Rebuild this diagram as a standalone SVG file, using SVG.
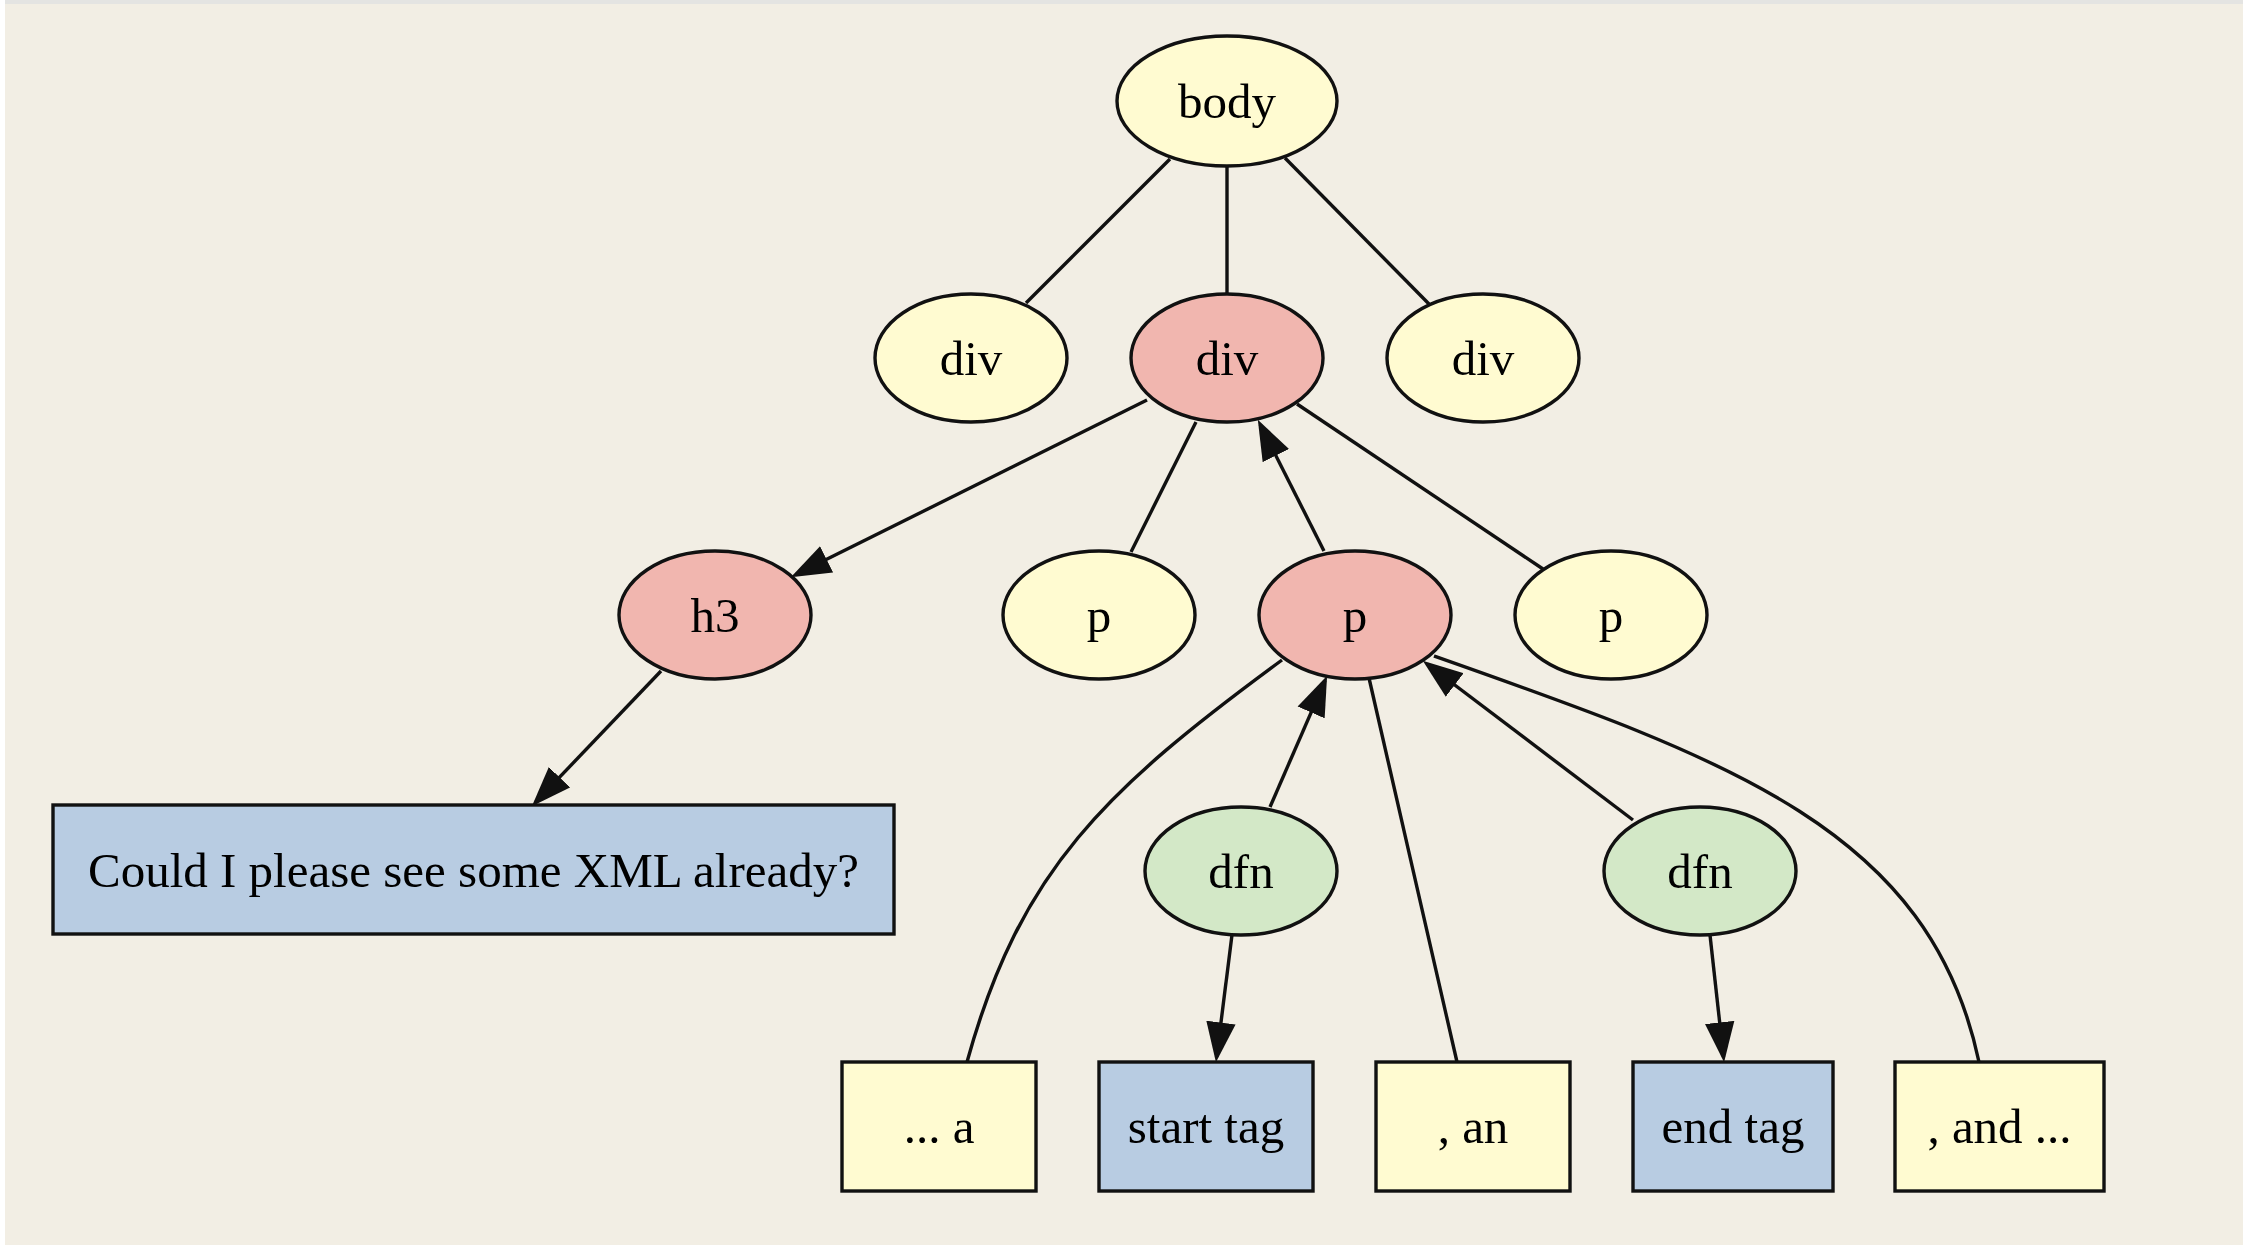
<svg xmlns="http://www.w3.org/2000/svg" width="2243" height="1245" viewBox="0 0 2243 1245">
<style>
.bg{fill:#F2EEE4}
.n{stroke:#111;stroke-width:3.4}
.y{fill:#FFFBD1}
.r{fill:#F1B6AF}
.g{fill:#D3E8C7}
.b{fill:#B8CCE2}
text{font-family:"Liberation Serif","Times New Roman",serif;font-size:49px;fill:#000;text-anchor:middle}
.e{stroke:#111;stroke-width:3.4;fill:none}
.a{marker-end:url(#arr)}
</style>
<defs>
<marker id="arr" markerUnits="userSpaceOnUse" markerWidth="40" markerHeight="30" viewBox="0 0 38 28" refX="33" refY="14" orient="auto">
<path d="M0,0 L38,14 L0,28 Z" fill="#111"/>
</marker>
</defs>
<rect class="bg" x="0" y="0" width="2243" height="1245"/>
<rect x="0" y="0" width="5" height="1245" fill="#FFFFFF"/>
<rect x="5" y="0" width="2238" height="4" fill="#E4E4E2"/>
<g id="connectors">
<line class="e" x1="1170" y1="159" x2="1026" y2="303"/>
<line class="e" x1="1227" y1="166" x2="1227" y2="294"/>
<line class="e" x1="1285" y1="158" x2="1429" y2="304"/>
<line class="e a" x1="1147" y1="400" x2="795.5" y2="574.8"/>
<line class="e" x1="1196" y1="422" x2="1131" y2="552"/>
<line class="e a" x1="1324" y1="551" x2="1260.2" y2="424.5"/>
<line class="e" x1="1297" y1="404" x2="1543" y2="569"/>
<line class="e a" x1="661" y1="671" x2="535.5" y2="802.4"/>
<path class="e" d="M1282,660 C1105,790 1020,870 967,1062"/>
<line class="e a" x1="1270" y1="807" x2="1325" y2="680.6"/>
<line class="e" x1="1369" y1="678" x2="1457" y2="1062"/>
<line class="e a" x1="1633" y1="820" x2="1427" y2="664"/>
<path class="e" d="M1434,656 C1730,760 1930,830 1979,1062"/>
<line class="e a" x1="1232" y1="935" x2="1216.6" y2="1057"/>
<line class="e a" x1="1710" y1="935" x2="1723.5" y2="1057"/>
</g>
<g id="body"><ellipse class="n y" cx="1227" cy="101" rx="110" ry="65"/><text x="1227" y="118">body</text></g>
<g id="div1"><ellipse class="n y" cx="971" cy="358" rx="96" ry="64"/><text x="971" y="375">div</text></g>
<g id="div2"><ellipse class="n r" cx="1227" cy="358" rx="96" ry="64"/><text x="1227" y="375">div</text></g>
<g id="div3"><ellipse class="n y" cx="1483" cy="358" rx="96" ry="64"/><text x="1483" y="375">div</text></g>
<g id="h3"><ellipse class="n r" cx="715" cy="615" rx="96" ry="64"/><text x="715" y="632">h3</text></g>
<g id="p1"><ellipse class="n y" cx="1099" cy="615" rx="96" ry="64"/><text x="1099" y="632">p</text></g>
<g id="p2"><ellipse class="n r" cx="1355" cy="615" rx="96" ry="64"/><text x="1355" y="632">p</text></g>
<g id="p3"><ellipse class="n y" cx="1611" cy="615" rx="96" ry="64"/><text x="1611" y="632">p</text></g>
<g id="dfn1"><ellipse class="n g" cx="1241" cy="871" rx="96" ry="64"/><text x="1241" y="888">dfn</text></g>
<g id="dfn2"><ellipse class="n g" cx="1700" cy="871" rx="96" ry="64"/><text x="1700" y="888">dfn</text></g>
<g id="heading"><rect class="n b" x="53" y="805" width="841" height="129"/><text x="473.5" y="887">Could I please see some XML already?</text></g>
<g id="t1"><rect class="n y" x="842" y="1062" width="194" height="129"/><text x="939" y="1143">... a</text></g>
<g id="t2"><rect class="n b" x="1099" y="1062" width="214" height="129"/><text x="1206" y="1143">start tag</text></g>
<g id="t3"><rect class="n y" x="1376" y="1062" width="194" height="129"/><text x="1473" y="1143">, an</text></g>
<g id="t4"><rect class="n b" x="1633" y="1062" width="200" height="129"/><text x="1733" y="1143">end tag</text></g>
<g id="t5"><rect class="n y" x="1895" y="1062" width="209" height="129"/><text x="1999.5" y="1143">, and ...</text></g>
</svg>
